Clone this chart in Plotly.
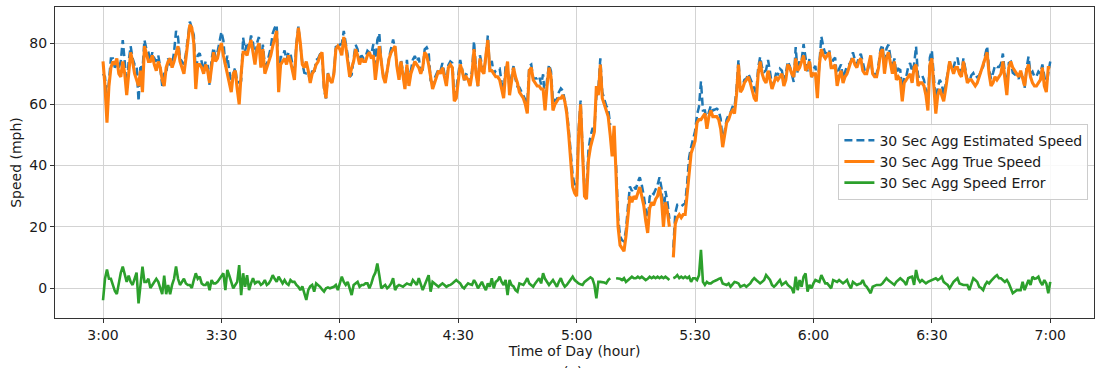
import pandas as pd
import plotly.graph_objects as go

# 30-second aggregated true speed (mph), 3:00 -> 7:00
true_speed = [
    74, 66, 54, 66, 72, 74, 73, 75, 70, 69, 74, 70, 63, 70, 77, 74, 70, 68, 66, 71,
    64, 79, 76, 74, 74, 76, 73, 71, 74, 72, 68, 66, 72, 74, 75, 72, 74, 77, 79, 74,
    72, 70, 75, 80, 86, 85, 80, 65, 73, 73, 72, 70, 73, 71, 67, 72, 77, 74, 75, 78,
    80, 76, 73, 70, 66, 64, 70, 71, 65, 60, 70, 77, 77, 76, 79, 81, 77, 73, 78, 80,
    72, 78, 70, 72, 74, 76, 79, 82, 84, 64, 73, 74, 75, 73, 76, 74, 71, 68, 79, 85,
    80, 73, 72, 74, 71, 67, 70, 71, 73, 74, 76, 77, 66, 62, 70, 68, 67, 70, 78, 79,
    78, 76, 82, 79, 74, 69, 72, 74, 78, 76, 73, 75, 74, 74, 76, 77, 75, 76, 68, 73,
    79, 74, 69, 67, 71, 75, 77, 78, 79, 72, 68, 74, 70, 65, 73, 66, 70, 72, 74, 73,
    72, 70, 72, 77, 76, 73, 69, 65, 67, 69, 71, 70, 72, 69, 66, 72, 73, 72, 61, 62,
    68, 73, 71, 68, 69, 68, 66, 70, 78, 70, 66, 75, 71, 70, 76, 81, 71, 71, 70, 69,
    69, 68, 65, 62, 70, 74, 63, 68, 72, 69, 67, 64, 63, 62, 60, 57, 71, 72, 68, 67,
    66, 66, 65, 65, 58, 66, 72, 69, 58, 60, 61, 62, 62, 63, 61, 57, 50, 42, 33, 31,
    30, 50, 60, 44, 30, 29, 42, 46, 49, 51, 66, 63, 73, 62, 60, 58, 56, 50, 43, 53,
    37, 20, 14, 13, 12, 17, 24, 30, 28, 30, 29, 31, 33, 30, 27, 22, 18, 26, 28, 27,
    29, 30, 33, 29, 20, 28, 25, 20, None, 10, 21, 23, 24, 23, 24, 24, 31, 39, 44, 46,
    48, 54, 55, 55, 56, 57, 52, 56, 58, 56, 56, 56, 55, 52, 46, 50, 54, 55, 57, 58,
    57, 63, 73, 64, 65, 67, 68, 69, 67, 64, 62, 61, 70, 74, 70, 68, 67, 71, 68, 65,
    67, 69, 68, 69, 70, 66, 68, 73, 72, 70, 69, 75, 71, 72, 74, 76, 71, 72, 74, 69,
    70, 70, 62, 73, 78, 76, 75, 76, 77, 72, 72, 73, 66, 69, 71, 67, 69, 70, 72, 74,
    75, 73, 72, 74, 75, 71, 70, 70, 73, 76, 70, 69, 69, 72, 77, 78, 70, 75, 77, 73,
    70, 74, 68, 69, 68, 61, 67, 68, 69, 70, 67, 72, 73, 66, 67, 67, 66, 63, 58, 73,
    75, 66, 57, 63, 65, 63, 61, 65, 69, 74, 72, 70, 72, 72, 70, 69, 74, 71, 67, 68,
    68, 67, 66, 67, 69, 71, 73, 75, 77, 70, 66, 67, 69, 68, 69, 70, 74, 68, 63, 72,
    74, 72, 71, 70, 69, 71, 68, 66, 71, 73, 69, 67, 66, 66, 67, 68, 72, 66, 64, 72, 72,
]

# 30-second aggregated speed error (estimated - true, mph)
speed_error = [
    -4, 3, 6, 3, 3, 1, -1, -2, 2, 5, 7, 4, 2, 4, 2, 1, 3, 5, -5, 2,
    7, 2, 2, 3, 0, 1, 2, 3, 2, 0, -2, 4, -2, 1, -2, 1, 3, 7, 3, 1,
    2, 3, 1.5, 1, 1, 0, 2.6, 4.8, 3, 3.7, 1.5, 1, 1, 2, -0.7, 2.6, 1.5, 1.5, 2, 3,
    3.7, 4.8, -0.7, 5.9, 4, 2, -0.1, 1, 2, 7.5, -2.3, 4.8, 0.4, 4.2, -0.7, 1.5, 3.2, 1.5, 2, 2,
    1, 1.5, 2.6, 1, 1.5, 2.6, 4.2, 3, 2, 3.7, 2.5, 1.5, 2.6, 1.5, 1, 2.6, 2, 2, 1, 0.4,
    -0.7, 0.5, -1.7, -3.9, -0.7, 0.5, 1, -1.2, 1.5, 1, 0.4, -0.5, -1.2, -0.1, 0.2, -0.1, 0.2, 0.4, 1, -0.7,
    1.5, 3.7, 2, 1, 2, 0, -2.3, 1, 1.5, 2, 0.4, 1, 1, 1.5, 1.5, -0.1, 1.5, 3.7, 5, 8,
    4.2, -0.1, 0.5, 1, -0.1, 0.5, 1.5, 3.2, -0.7, 0.5, 1, 0.6, 0.4, 1, 1.5, 1.2, 1, 2.6, 1.8, 1,
    3.2, 1, -0.7, 1, 2.6, 4.2, -1.2, 2, 1.5, 1, 0.4, 1, 1.5, 1, 0.4, 0.8, 1, 1.5, 2, 2.6,
    2, 1.5, 0.4, -0.1, 0.8, 1.5, 1.2, 1, 2.6, 1.5, -0.1, 1, 2, 0.5, -0.7, 1.5, 0.4, 3.2, -0.1, 2,
    2.5, 3.7, 2, 1, 2.6, -2.3, 2.6, 1, 0.5, -0.7, -1.2, 1.5, 1.2, 1, 2, 3.2, 1.5, 1, 0.4, 1.5,
    2.5, 3.2, 1.5, 4.8, 3, 2, 1, 1.8, 2.6, 1.5, 0.4, 2, 3.2, 1.5, 0.4, 1, 1.8, 2.6, 3.7, 2.6,
    2, 1.5, 1.2, 1, 2, 2.6, 3.2, 3.5, 3, 1, -3.4, 2, 2, 2, 1.8, 1.5, 2.6, 3.2, None, None,
    3.2, 3.2, 3, 2.6, 3.2, 2, 2.6, 3.2, 3.7, 3.2, 3.2, 3.7, 3.2, 3.7, 3.2, 2.6, 3, 3.7, 3.2, 3.7,
    3.2, 3.7, 3.2, 3.7, 3.2, 3.7, 3.2, 2.6, None, 3.2, 3.5, 4.2, 3.2, 3.7, 3.2, 3.7, 3.2, 3.7, 2, 3.2,
    3.2, 2.6, 4.2, 12.5, 2, 1, 2, 1.5, 1.5, 2, 2.2, 2.6, 3, 3.2, 1.5, 1.2, 1, 1.5, 0.4, 1.2,
    2, 1.8, 1.5, 0.4, 0.8, 1, 0.4, 1, 1.5, 2.5, 3.2, 2.6, 2, 1.5, 2, 2.6, 4.2, 3.5, 2.6, 1,
    0.4, 1, 1.8, 2.6, 1, 1.5, 2, 1, 0.5, -0.1, -1.7, 3.7, -0.7, 2.6, 0.4, 3.7, 4.8, -1.2, 1, -0.1,
    1.5, 2.6, 2.3, 2, 4.2, 2.8, 1.5, 1.5, 0.8, -0.1, 2.6, 2.3, 2, 2.6, 2, 1.5, 2, 2.6, 1, -0.1,
    2, 1.5, 1, 1.3, 1.5, 2.6, 1, 0.4, -0.5, -1.7, 0.4, 0.7, 1, 1, 1, 1.5, 2.3, 3.2, 2.5, 2,
    1.5, 1, 2, 2.6, 3.2, 2.6, 2, 1, 3.2, 3.5, 3.7, 1, 5.9, 3, 2, 2.6, 2, 1.5, 2, 2.3,
    2.6, 3, 3.2, 2.6, 3, 3.7, 2, 1.5, 1, -0.1, 1, 2, 2.6, 3.2, 1.5, 1.2, 1, 1, 1, -0.7,
    1.5, 3.2, 2.6, 2, 0.4, 0, -0.7, 1, 2, 1.5, 2.3, 3.2, 3.7, 4.2, 3.2, 3.2, 2.6, 2, 2.6, 1.5,
    -0.1, -1.7, -1.2, -0.7, -0.7, -0.7, 2, -0.7, 1, 2.6, 1, 3.7, 3, 3.2, 3.7, 2, 1, 2.6, 1.5, -1.7, 2,
]

# estimated speed = true speed + error
estimated_speed = [
    (t + e) if (t is not None and e is not None) else None
    for t, e in zip(true_speed, speed_error)
]

start_time = "2000-01-01 03:00:00"
interval = "30s"
times = pd.date_range(start_time, periods=len(true_speed), freq=interval)

tick_labels = ["3:00", "3:30", "4:00", "4:30", "5:00", "5:30", "6:00", "6:30", "7:00"]
tick_times = pd.date_range(start_time, periods=len(tick_labels), freq="30min")

series_names = ["30 Sec Agg Estimated Speed", "30 Sec Agg True Speed", "30 Sec Agg Speed Error"]
colors = ["#1f77b4", "#ff7f0e", "#2ca02c"]

fig = go.Figure()
fig.add_trace(go.Scatter(x=times, y=estimated_speed, mode="lines", name=series_names[0],
                         line=dict(color=colors[0], width=2.5, dash="8px,4px")))
fig.add_trace(go.Scatter(x=times, y=true_speed, mode="lines", name=series_names[1],
                         line=dict(color=colors[1], width=3.1)))
fig.add_trace(go.Scatter(x=times, y=speed_error, mode="lines", name=series_names[2],
                         line=dict(color=colors[2], width=2.6)))

font_family = "DejaVu Sans, Verdana, sans-serif"
fig.update_layout(
    width=1097, height=368,
    margin=dict(l=55, r=3, t=7, b=50),
    paper_bgcolor="white", plot_bgcolor="white",
    font=dict(family=font_family, size=14, color="#1a1a1a"),
    showlegend=True,
    legend=dict(x=0.754, y=0.625, xanchor="left", yanchor="top",
                bgcolor="rgba(255,255,255,0.85)", bordercolor="#cccccc", borderwidth=1,
                font=dict(size=14), tracegroupgap=0),
    annotations=[dict(text="(a)", xref="paper", yref="paper", x=0.4986, y=-0.14,
                      xanchor="center", yanchor="top", showarrow=False,
                      font=dict(size=14))],
)
fig.update_xaxes(
    range=["2000-01-01 02:47:50", "2000-01-01 07:11:05"],
    tickmode="array", tickvals=tick_times, ticktext=tick_labels,
    showgrid=True, gridcolor="#d3d3d3", gridwidth=1,
    showline=True, linecolor="#333333", linewidth=1, mirror=True,
    ticks="outside", ticklen=4, tickcolor="#333333",
    title=dict(text="Time of Day (hour)", standoff=3, font=dict(size=14)),
    zeroline=False,
)
fig.update_yaxes(
    range=[-9.8, 91.8],
    tickvals=[0, 20, 40, 60, 80],
    showgrid=True, gridcolor="#d3d3d3", gridwidth=1,
    showline=True, linecolor="#333333", linewidth=1, mirror=True,
    ticks="outside", ticklen=4, tickcolor="#333333",
    title=dict(text="Speed (mph)", standoff=4, font=dict(size=14)),
    zeroline=False,
)

fig.write_html("out.html")
